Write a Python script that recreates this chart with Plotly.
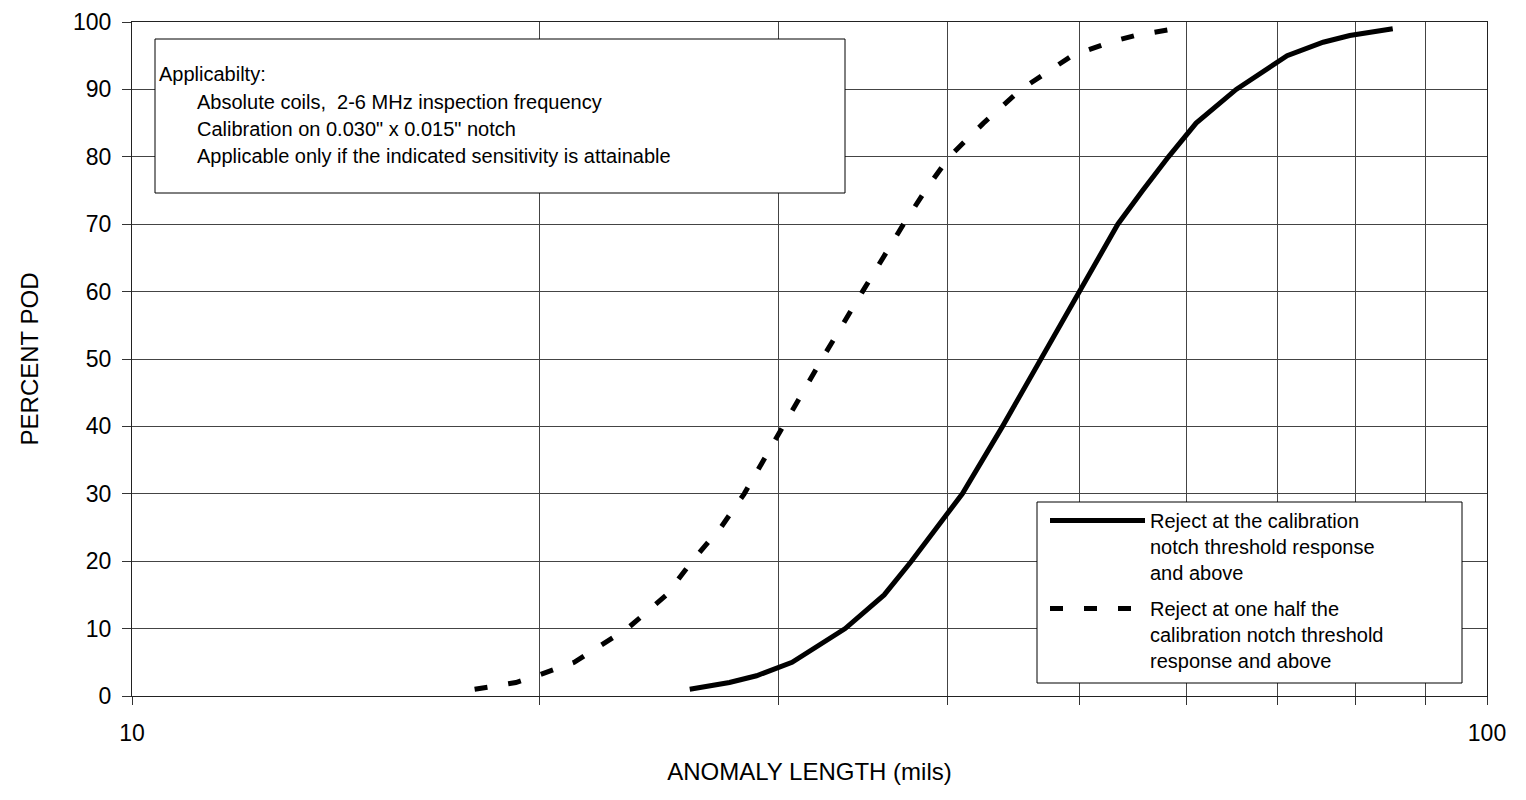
import plotly.graph_objects as go

# ---- data ----
solid_len = [25.8, 27.6, 28.9, 30.7, 33.6, 35.9, 37.6, 39.3, 41.0, 43.9, 46.9, 50.0,
             53.4, 55.7, 58.2, 61.0, 65.3, 71.2, 75.7, 79.2, 85.2]
solid_pod = [1, 2, 3, 5, 10, 15, 20, 25, 30, 40, 50, 60,
             70, 75, 80, 85, 90, 95, 97, 98, 99]

dash_len = [17.9, 19.2, 19.9, 21.2, 23.2, 24.8, 25.9, 27.2, 28.3, 30.2, 32.3, 34.6,
            35.8, 37.1, 38.5, 40.1, 42.5, 45.3, 49.4, 52.7, 55.0, 58.8]
dash_pod = [1, 2, 3, 5, 10, 15, 20, 25, 30, 40, 50, 60,
            65, 70, 75, 80, 85, 90, 95, 97, 98, 99]

solid_name = "Reject at the calibration<br>notch threshold response<br>and above"
dash_name = "Reject at one half the<br>calibration notch threshold<br>response and above"

x_tickvals = [10, 20, 30, 40, 50, 60, 70, 80, 90, 100]
x_ticktext = ["10", "", "", "", "", "", "", "", "", "100"]
y_tickvals = [0, 10, 20, 30, 40, 50, 60, 70, 80, 90, 100]

note_title = "Applicabilty:"
note_lines = [
    "Absolute coils,\u00a0 2-6 MHz inspection frequency",
    "Calibration on 0.030\" x 0.015\" notch",
    "Applicable only if the indicated sensitivity is attainable",
]

FONT = "Arial, 'Liberation Sans', sans-serif"

fig = go.Figure()
fig.add_trace(go.Scatter(x=solid_len, y=solid_pod, mode="lines", name=solid_name,
                         legendgroup="a",
                         line=dict(color="black", width=5)))
fig.add_trace(go.Scatter(x=dash_len, y=dash_pod, mode="lines", name=dash_name,
                         legendgroup="b",
                         line=dict(color="black", width=5, dash="13px,21px")))

# plot area in page pixels: L = 132, R = 1487, T = 21, B = 695
L, T, W, H = 132, 21, 1355, 674
def px(xp):
    return (xp - L) / W
def py(yp):
    return (T + H - yp) / H

shapes = [
    # note box
    dict(type="rect", xref="paper", yref="paper", x0=px(155), x1=px(845),
         y0=py(192), y1=py(38), line=dict(color="black", width=1),
         fillcolor="white", layer="above"),
    # legend box
    dict(type="rect", xref="paper", yref="paper", x0=px(1037), x1=px(1462),
         y0=py(682), y1=py(501), line=dict(color="black", width=1),
         fillcolor="white", layer="above"),
]

annotations = [
    dict(xref="paper", yref="paper", x=px(157), y=py(73), text=note_title,
         showarrow=False, xanchor="left", yanchor="middle",
         font=dict(family=FONT, size=20, color="black")),
]
for i, t in enumerate(note_lines):
    annotations.append(dict(xref="paper", yref="paper", x=px(195), y=py(101 + 27 * i),
                            text=t, showarrow=False, xanchor="left", yanchor="middle",
                            font=dict(family=FONT, size=20, color="black")))

fig.update_layout(
    width=1526, height=800,
    margin=dict(l=124, r=47, t=14, b=112),
    paper_bgcolor="white", plot_bgcolor="white",
    font=dict(family=FONT, color="black"),
    showlegend=True,
    legend=dict(x=px(1045), y=py(500), xanchor="left", yanchor="top",
                bgcolor="rgba(0,0,0,0)", borderwidth=0,
                font=dict(family=FONT, size=20, color="black"),
                itemwidth=95, valign="top", tracegroupgap=7,
                traceorder="grouped"),
    shapes=shapes,
    annotations=annotations,
    xaxis=dict(type="log", range=[1, 2], tickvals=x_tickvals, ticktext=x_ticktext,
               showgrid=True, gridcolor="#444", gridwidth=1,
               ticks="outside", ticklen=8, tickcolor="#333",
               showline=True, linecolor="#222", linewidth=1, mirror=True,
               zeroline=False, automargin=False,
               tickfont=dict(family=FONT, size=23, color="black"),
               ticklabelstandoff=8, ticklabeloverflow="allow",
               title=dict(text="ANOMALY LENGTH (mils)", standoff=18,
                          font=dict(family=FONT, size=24, color="black"))),
    yaxis=dict(range=[0, 100], tickvals=y_tickvals,
               showgrid=True, gridcolor="#444", gridwidth=1,
               ticks="outside", ticklen=9, tickcolor="#333",
               showline=True, linecolor="#222", linewidth=1, mirror=True,
               zeroline=False, automargin="left",
               tickfont=dict(family=FONT, size=23, color="black"),
               ticklabelstandoff=6, ticklabeloverflow="allow",
               title=dict(text="PERCENT POD", standoff=27,
                          font=dict(family=FONT, size=24, color="black"))),
)

fig.write_html("out.html")
